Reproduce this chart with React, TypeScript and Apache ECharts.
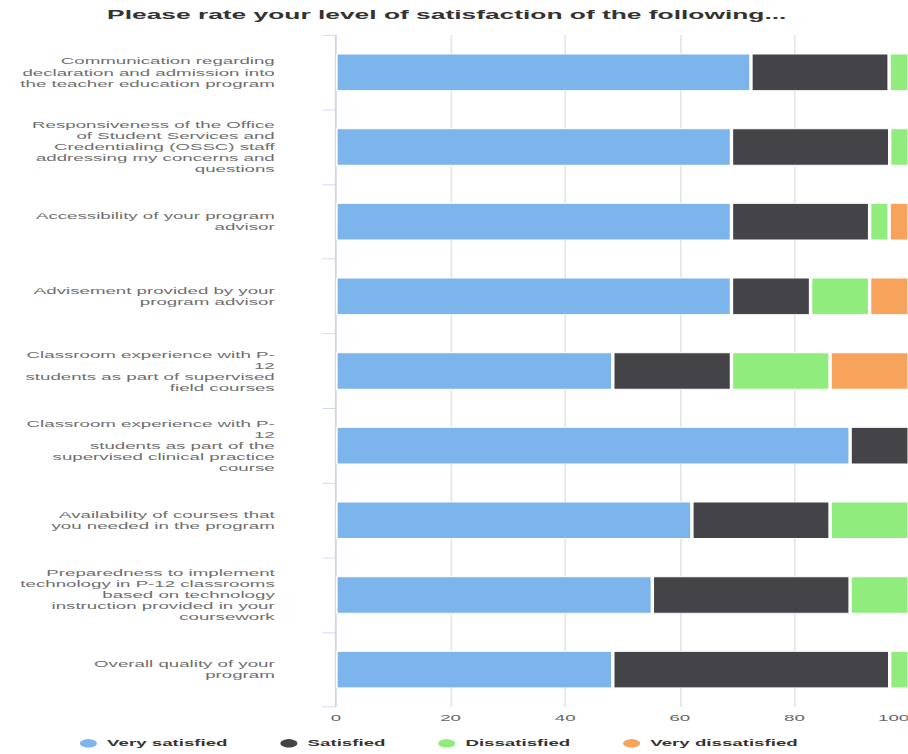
import React, { useEffect, useRef } from "react";
import * as echarts from "echarts";

const TITLE = "Please rate your level of satisfaction of the following...";

const categories: string[] = [
  "Communication regarding\ndeclaration and admission into\nthe teacher education program",
  "Responsiveness of the Office\nof Student Services and\nCredentialing (OSSC) staff\naddressing my concerns and\nquestions",
  "Accessibility of your program\nadvisor",
  "Advisement provided by your\nprogram advisor",
  "Classroom experience with P-\n12\nstudents as part of supervised\nfield courses",
  "Classroom experience with P-\n12\nstudents as part of the\nsupervised clinical practice\ncourse",
  "Availability of courses that\nyou needed in the program",
  "Preparedness to implement\ntechnology in P-12 classrooms\nbased on technology\ninstruction provided in your\ncoursework",
  "Overall quality of your\nprogram",
];

const seriesNames: string[] = ["Very satisfied", "Satisfied", "Dissatisfied", "Very dissatisfied"];

const verySatisfied: number[] = [72.4, 69.0, 69.0, 69.0, 48.3, 89.7, 62.1, 55.2, 48.3];
const satisfied: number[] = [24.1, 27.6, 24.1, 13.8, 20.7, 10.3, 24.1, 34.5, 48.3];
const dissatisfied: number[] = [3.5, 3.4, 3.4, 10.3, 17.2, 0, 13.8, 10.3, 3.4];
const veryDissatisfied: number[] = [0, 0, 3.5, 6.9, 13.8, 0, 0, 0, 0];

const xTicks: number[] = [0, 20, 40, 60, 80, 100];

const colors = ["#7cb5ec", "#434348", "#90ed7d", "#f7a35c"];

const SX = 1.7;
const SY = 0.85;
const W = 908;
const H = 754;

export default function App() {
  const ref = useRef<HTMLDivElement>(null);

  useEffect(() => {
    if (!ref.current) return;
    const chart = echarts.init(ref.current, undefined, { renderer: "svg" });
    const font = "'Liberation Sans', Arial, sans-serif";
    const values = [verySatisfied, satisfied, dissatisfied, veryDissatisfied];
    chart.setOption({
      animation: false,
      textStyle: { fontFamily: font },
      title: {
        text: TITLE,
        left: 58,
        top: 3.5,
        textStyle: { fontSize: 15.5, fontWeight: "bold", color: "#333333", fontFamily: font },
      },
      legend: {
        left: 40,
        top: 862.5,
        icon: "circle",
        itemWidth: 12,
        itemHeight: 12,
        itemGap: 29,
        data: seriesNames,
        textStyle: { fontSize: 11, fontWeight: "bold", color: "#333333", fontFamily: font },
      },
      grid: {
        left: 197.6,
        right: -0.8,
        top: 41.2,
        bottom: 55.3,
        containLabel: false,
        outerBoundsMode: "none",
      },
      xAxis: {
        type: "value",
        min: xTicks[0],
        max: xTicks[xTicks.length - 1],
        interval: 20,
        axisLine: { show: false },
        axisTick: { show: false },
        axisLabel: {
          fontSize: 11,
          color: "#666666",
          margin: 7,
          alignMaxLabel: "right",
          fontFamily: font,
        },
        splitLine: { show: true, lineStyle: { color: "#e6e6e6", width: 1 } },
      },
      yAxis: {
        type: "category",
        inverse: true,
        data: categories,
        axisLine: { show: true, lineStyle: { color: "#ccd6eb", width: 1 } },
        axisTick: { show: true, length: 8, lineStyle: { color: "#ccd6eb" } },
        axisLabel: {
          fontSize: 11,
          lineHeight: 13,
          color: "#6e6e6e",
          margin: 36,
          align: "right",
          fontFamily: font,
        },
        splitLine: { show: false },
      },
      series: seriesNames.map((name, i) => ({
        name,
        type: "bar",
        stack: "total",
        barCategoryGap: "50%",
        data: values[i],
        itemStyle: { color: colors[i], borderColor: "#ffffff", borderWidth: 1 },
        emphasis: { disabled: true },
      })),
    });
    return () => chart.dispose();
  }, []);

  return (
    <div
      style={{
        position: "fixed",
        left: 0,
        top: 0,
        width: W,
        height: H,
        overflow: "hidden",
        background: "#ffffff",
      }}
    >
      <div
        ref={ref}
        style={{
          width: W / SX,
          height: H / SY,
          transform: `scale(${SX}, ${SY})`,
          transformOrigin: "0 0",
        }}
      />
    </div>
  );
}
